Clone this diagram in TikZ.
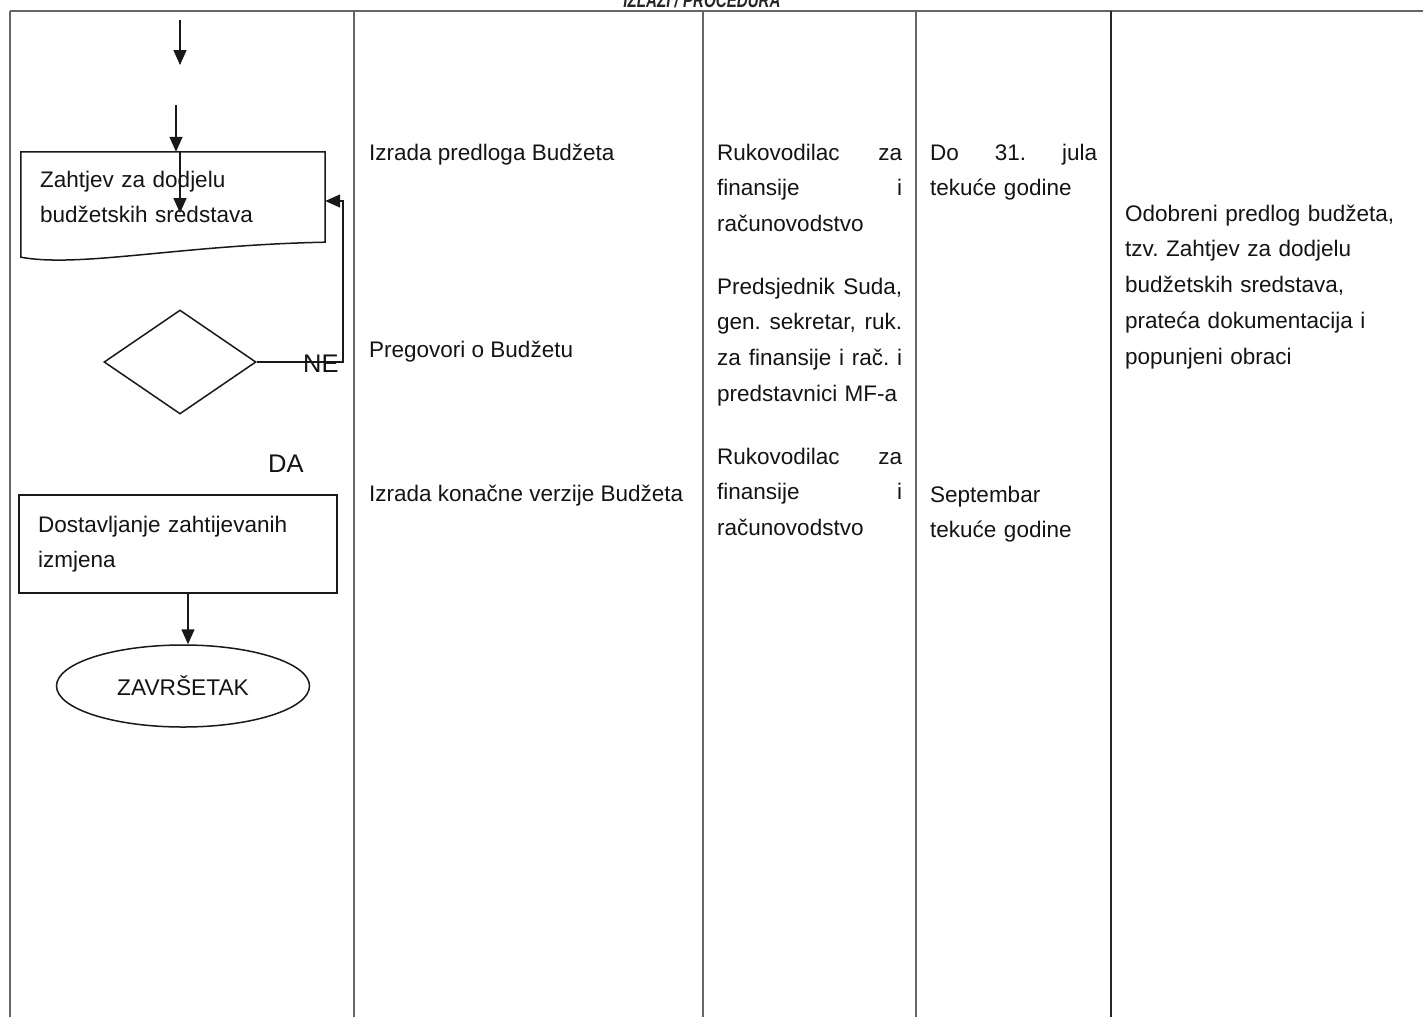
\documentclass[tikz,border=0pt]{standalone}
\usepackage{fontspec}
\setmainfont{Liberation Sans}
\usetikzlibrary{arrows.meta,shapes.geometric}
\newcommand{\jline}[2]{\leavevmode\hbox to #1{#2}}
\begin{document}
\frenchspacing
\begin{tikzpicture}[x=1pt,y=-1pt,
  txt/.style={inner sep=0pt, anchor=base west, font=\fontsize{22.5}{35.8}\selectfont\frenchspacing, text=black!92, align=left},
  gridline/.style={draw=black!60, line width=1.4pt},
  flow/.style={draw=black!90, line width=1.5pt},
  arr/.style={flow, -{Triangle[length=15pt,width=13pt]}},
]
\useasboundingbox (0,0) rectangle (1423,1017);
\fill[white] (0,0) rectangle (1423,1017);

% header (cropped at top, as in the reference)
\node[inner sep=0pt, anchor=base, font=\bfseries\itshape\fontsize{21}{21}\selectfont, text=black!85] (hdr) at (702,8) {\scalebox{0.72}[1]{IZLAZI / PROCEDURA}};

% table
\draw[gridline] (10,11) -- (1423,11);
\draw[gridline] (10,11) -- (10,1017);
\draw[gridline] (354,11) -- (354,1017);
\draw[gridline] (703,11) -- (703,1017);
\draw[gridline] (916,11) -- (916,1017);
\draw[gridline, draw=black!85] (1111,11) -- (1111,1017);

% flowchart
\coordinate (s1) at (180,20);
\coordinate (s1e) at (180,65);
\draw[arr] (s1) -- (s1e);

\node[minimum width=304pt, minimum height=90pt, inner sep=0pt] (req) at (173,197) {};
\draw[flow] (req.north west) -- (req.north east) -- (req.south east)
  .. controls (180,245) and (80,268) .. ([yshift=-15pt]req.south west) -- cycle;
\node[txt, text width=280pt] (reqtxt) at (40,187) {Zahtjev za dodjelu\\budžetskih sredstava};

\coordinate (s2) at (176,105);
\draw[arr] (s2) -- (s2 |- req.north);
\coordinate (in1) at (180,152);
\coordinate (in2) at (180,213);
\draw[arr] (in1) -- (in2);

\node[diamond, draw, flow, minimum width=152pt, minimum height=104pt, inner sep=0pt] (dec) at (180,362) {};
\coordinate (fb) at (343,201);
\draw[arr] (dec.east) -| (fb) -- (fb -| req.east);
\node[txt, font=\fontsize{25.5}{25.5}\selectfont] (ne) at (303,372) {NE};
\node[txt, font=\fontsize{25.5}{25.5}\selectfont] (da) at (268,472) {DA};

\node[draw, flow, minimum width=318pt, minimum height=98pt, inner sep=0pt] (chg) at (178,544) {};
\node[txt, text width=290pt] (chgtxt) at (38,532) {Dostavljanje zahtijevanih\\izmjena};

\node[ellipse, draw, flow, minimum width=253pt, minimum height=82pt, inner sep=0pt,
  font=\fontsize{22.7}{22.7}\selectfont, text=black!92] (end) at (183,686) {ZAVRŠETAK};
\draw[arr] ([xshift=10pt]chg.south) -- ([xshift=10pt]chg.south |- end.north);

% column 2
\node[txt] (a1) at (369,160) {Izrada predloga Budžeta};
\node[txt] (a2) at (369,357) {Pregovori o Budžetu};
\node[txt] (a3) at (369,501) {Izrada konačne verzije Budžeta};

% column 3
\node[txt, text width=185pt] (r1) at (717,160) {\jline{185pt}{Rukovodilac\hfill za}\\\jline{185pt}{finansije\hfill i}\\računovodstvo};
\node[txt, text width=185pt] (r2) at (717,294) {\jline{185pt}{Predsjednik\hfill Suda,}\\\jline{185pt}{gen.\hfill sekretar,\hfill ruk.}\\\jline{185pt}{za\hfill finansije\hfill i\hfill rač.\hfill i}\\predstavnici MF-a};
\node[txt, text width=185pt] (r3) at (717,464) {\jline{185pt}{Rukovodilac\hfill za}\\\jline{185pt}{finansije\hfill i}\\računovodstvo};

% column 4
\node[txt, text width=167pt] (t1) at (930,160) {\jline{167pt}{Do\hfill 31.\hfill jula}\\tekuće godine};
\node[txt, text width=167pt] (t2) at (930,502) {Septembar\\tekuće godine};

% column 5
\node[txt, text width=290pt] (d1) at (1125,221) {Odobreni predlog budžeta,\\tzv. Zahtjev za dodjelu\\budžetskih sredstava,\\prateća dokumentacija i\\popunjeni obraci};
\end{tikzpicture}
\end{document}
